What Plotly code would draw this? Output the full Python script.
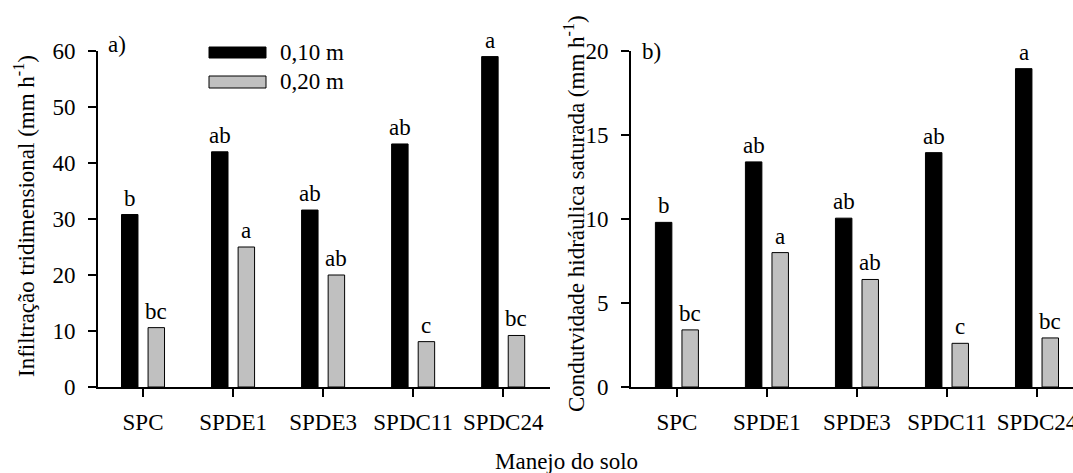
import plotly.graph_objects as go

categories = ["SPC", "SPDE1", "SPDE3", "SPDC11", "SPDC24"]
series_names = ["0,10 m", "0,20 m"]

infil_010 = [30.8, 42.0, 31.6, 43.4, 59.0]
infil_020 = [10.6, 25.0, 20.0, 8.1, 9.2]
infil_letters_010 = ["b", "ab", "ab", "ab", "a"]
infil_letters_020 = ["bc", "a", "ab", "c", "bc"]

kfs_010 = [9.8, 13.4, 10.05, 13.95, 18.95]
kfs_020 = [3.4, 8.0, 6.4, 2.6, 2.92]
kfs_letters_010 = ["b", "ab", "ab", "ab", "a"]
kfs_letters_020 = ["bc", "a", "ab", "c", "bc"]

W, H = 1073, 473
FONT = "Liberation Serif"
FS = 23
colors = ["#000000", "#c0c0c0"]


def px(x):
    return x / W


def py(y):
    return (H - y) / H


fig = go.Figure()

for i, (vals, name) in enumerate(zip([infil_010, infil_020], series_names)):
    fig.add_trace(go.Bar(x=categories, y=vals, name=name, marker=dict(color=colors[i], line=dict(color="#000000", width=1)),
                         xaxis="x", yaxis="y", showlegend=False, offsetgroup=str(i)))
for i, (vals, name) in enumerate(zip([kfs_010, kfs_020], series_names)):
    fig.add_trace(go.Bar(x=categories, y=vals, name=name, marker=dict(color=colors[i], line=dict(color="#000000", width=1)),
                         xaxis="x2", yaxis="y2", showlegend=False, offsetgroup=str(i)))

font = dict(family=FONT, size=FS, color="#000")
annotations = []
for xa, ya, groups in [("x", "y", [(infil_010, infil_letters_010, -13.3), (infil_020, infil_letters_020, 13.3)]),
                       ("x2", "y2", [(kfs_010, kfs_letters_010, -13.3), (kfs_020, kfs_letters_020, 13.3)])]:
    for vals, letters, xs in groups:
        for c, v, t in zip(categories, vals, letters):
            annotations.append(dict(x=c, y=v, xref=xa, yref=ya, text=t, showarrow=False,
                                    xshift=xs, yshift=2, yanchor="bottom", xanchor="center", font=font))

# panel labels
annotations.append(dict(x=px(106), y=py(45), xref="paper", yref="paper", text="a)", showarrow=False,
                        xanchor="left", yanchor="middle", font=font))
annotations.append(dict(x=px(640), y=py(51), xref="paper", yref="paper", text="b)", showarrow=False,
                        xanchor="left", yanchor="middle", font=font))
# legend texts
annotations.append(dict(x=px(278), y=py(52), xref="paper", yref="paper", text=series_names[0], showarrow=False,
                        xanchor="left", yanchor="middle", font=font))
annotations.append(dict(x=px(278), y=py(82), xref="paper", yref="paper", text=series_names[1], showarrow=False,
                        xanchor="left", yanchor="middle", font=font))
# axis titles
annotations.append(dict(x=px(25), y=py(216), xref="paper", yref="paper",
                        text="Infiltração tridimensional (mm h<sup>-1</sup>)", showarrow=False, textangle=-90,
                        xanchor="center", yanchor="middle", font=font))
annotations.append(dict(x=px(574), y=py(214), xref="paper", yref="paper",
                        text="Condutvidade hidráulica saturada (mm h<sup>-1</sup>)", showarrow=False, textangle=-90,
                        xanchor="center", yanchor="middle", font=font))
annotations.append(dict(x=px(566), y=py(461), xref="paper", yref="paper", text="Manejo do solo", showarrow=False,
                        xanchor="center", yanchor="middle", font=font))

shapes = [
    dict(type="rect", xref="paper", yref="paper", x0=px(209), x1=px(266), y0=py(58), y1=py(47),
         fillcolor="#000000", line=dict(color="#000000", width=1)),
    dict(type="rect", xref="paper", yref="paper", x0=px(209), x1=px(266), y0=py(88), y1=py(76),
         fillcolor="#c0c0c0", line=dict(color="#000000", width=1)),
]

axis_common = dict(showline=True, linecolor="#000", linewidth=2, ticks="outside", ticklen=8, tickwidth=2,
                   tickcolor="#000", showgrid=False, zeroline=False, automargin=False,
                   tickfont=font)

fig.update_layout(
    template="none",
    width=W, height=H, margin=dict(l=0, r=0, t=0, b=0, pad=0),
    paper_bgcolor="white", plot_bgcolor="white",
    barmode="group", bargap=0.41, bargroupgap=0.38,
    xaxis=dict(domain=[px(98), px(550)], range=[-0.5, 4.52], anchor="y", type="category",
               ticklabelstandoff=5, **axis_common),
    yaxis=dict(domain=[py(387), py(51)], range=[0, 60], dtick=10, anchor="x", ticklabelstandoff=8, **axis_common),
    xaxis2=dict(domain=[px(631), 1.0], range=[-0.51, 4.4], anchor="y2", type="category",
                ticklabelstandoff=5, **axis_common),
    yaxis2=dict(domain=[py(387), py(51)], range=[0, 20], dtick=5, anchor="x2", ticklabelstandoff=8, **axis_common),
    annotations=annotations, shapes=shapes,
)

fig.write_html("out.html")
